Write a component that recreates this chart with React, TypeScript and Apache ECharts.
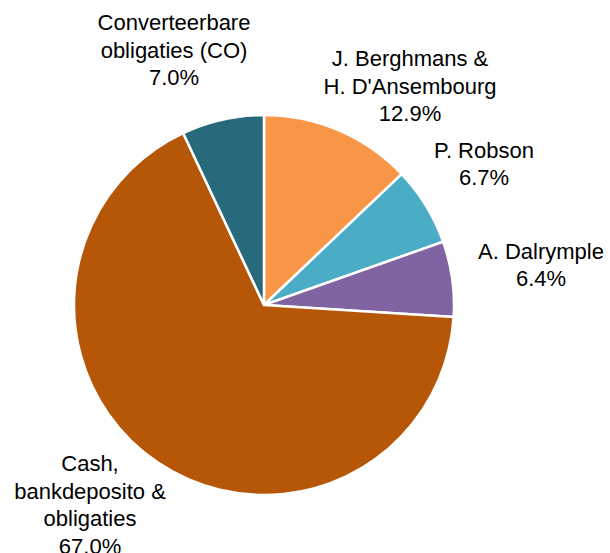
import React, { useEffect, useRef } from "react";
import * as echarts from "echarts";

const categories = [
  "J. Berghmans &\nH. D'Ansembourg",
  "P. Robson",
  "A. Dalrymple",
  "Cash,\nbankdeposito &\nobligaties",
  "Converteerbare\nobligaties (CO)",
];
const values = [12.9, 6.7, 6.4, 67.0, 7.0];
const colors = ["#F79646", "#4BACC6", "#8064A2", "#B65708", "#276A7C"];
// label centre positions (px)
const labelX = [410, 484, 541, 90, 174];
const labelY = [86, 164, 265, 505, 50];

export default function App() {
  const ref = useRef<HTMLDivElement>(null);
  useEffect(() => {
    document.body.style.margin = "0";
    const chart = echarts.init(ref.current!, undefined, { renderer: "svg" });
    chart.setOption({
      animation: false,
      backgroundColor: "#ffffff",
      series: [
        {
          type: "pie",
          center: [264, 305],
          radius: [0, 190],
          startAngle: 90,
          clockwise: true,
          avoidLabelOverlap: false,
          itemStyle: { borderColor: "#ffffff", borderWidth: 2.5 },
          label: {
            show: true,
            position: "outside",
            fontFamily: "Liberation Sans",
            fontSize: 22,
            lineHeight: 27.5,
            color: "#000000",
            align: "center",
            formatter: (p: any) => `${p.name}\n${p.value.toFixed(1)}%`,
          },
          labelLine: { show: false },
          labelLayout: (p: any) => ({
            x: labelX[p.dataIndex],
            y: labelY[p.dataIndex],
            align: "center",
            verticalAlign: "middle",
          }),
          data: categories.map((name, i) => ({
            name,
            value: values[i],
            itemStyle: { color: colors[i] },
          })),
        },
      ],
    });
    return () => chart.dispose();
  }, []);
  return <div ref={ref} style={{ width: 610, height: 553 }} />;
}
